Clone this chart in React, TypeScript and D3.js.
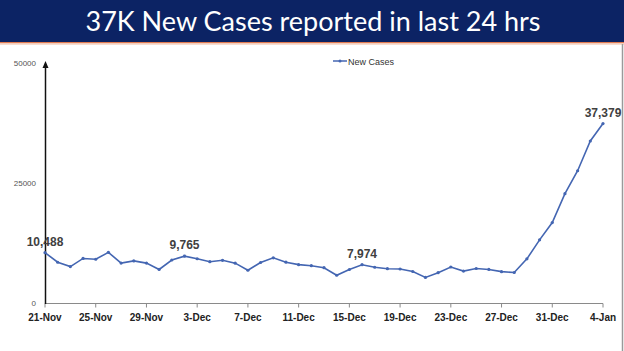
import React from 'react';
import * as d3 from 'd3';

const days = [
  '21-Nov', '22-Nov', '23-Nov', '24-Nov', '25-Nov', '26-Nov', '27-Nov', '28-Nov', '29-Nov', '30-Nov',
  '1-Dec', '2-Dec', '3-Dec', '4-Dec', '5-Dec', '6-Dec', '7-Dec', '8-Dec', '9-Dec', '10-Dec',
  '11-Dec', '12-Dec', '13-Dec', '14-Dec', '15-Dec', '16-Dec', '17-Dec', '18-Dec', '19-Dec', '20-Dec',
  '21-Dec', '22-Dec', '23-Dec', '24-Dec', '25-Dec', '26-Dec', '27-Dec', '28-Dec', '29-Dec', '30-Dec',
  '31-Dec', '1-Jan', '2-Jan', '3-Jan', '4-Jan',
];

const newCases = [
  10488, 8488, 7579, 9283, 9119, 10549, 8318, 8774, 8309, 6990,
  8954, 9765, 9216, 8603, 8895, 8306, 6822, 8439, 9419, 8503,
  7992, 7774, 7350, 5784, 6984, 7974, 7447, 7145, 7081, 6563,
  5326, 6317, 7495, 6650, 7189, 6987, 6531, 6358, 9195, 13154,
  16764, 22775, 27553, 33750, 37379,
];

const tickDays = ['21-Nov', '25-Nov', '29-Nov', '3-Dec', '7-Dec', '11-Dec', '15-Dec', '19-Dec', '23-Dec', '27-Dec', '31-Dec', '4-Jan'];
const yTicks = [0, 25000, 50000];
const labelledDays = ['21-Nov', '2-Dec', '16-Dec', '4-Jan'];

const W = 624;
const H = 351;

export default function App() {
  const x = d3.scalePoint<string>().domain(days).range([45, 603]);
  const y = d3.scaleLinear().domain([0, 50000]).range([303, 63]);

  const pts = days.map((d, i) => ({ d, v: newCases[i] }));
  const line = d3.line<{ d: string; v: number }>()
    .x(p => x(p.d) as number)
    .y(p => y(p.v));

  const blue = '#4466b2';
  const fmt = d3.format(',');

  return (
    <div style={{ position: 'absolute', left: 0, top: 0 }}>
      <svg width={W} height={H} style={{ display: 'block', background: '#fff' }}>
        {/* header band */}
        <rect x={0} y={0} width={W} height={42} fill="#0c2364" />
        <rect x={0} y={42} width={W} height={1.5} fill="#df7b52" />
        <rect x={0} y={43.5} width={W} height={1.5} fill="#f8ddd0" />
        <text x={313} y={31} textAnchor="middle" fill="#fff"
          style={{ fontFamily: 'Lato', fontSize: 27 }}>
          37K New Cases reported in last 24 hrs
        </text>
        <line x1={622.5} x2={622.5} y1={44} y2={H} stroke="#9a9a9a" strokeWidth={1.5} />

        {/* legend */}
        <line x1={333} x2={347} y1={61} y2={61} stroke={blue} strokeWidth={1.5} />
        <circle cx={340} cy={61} r={1.5} fill={blue} />
        <text x={348} y={64.5} fill="#333" style={{ fontFamily: 'Liberation Sans', fontSize: 9 }}>New Cases</text>

        {/* y axis */}
        {yTicks.map(t => (
          <text key={t} x={36} y={y(t) + 3} textAnchor="end" fill="#555"
            style={{ fontFamily: 'Liberation Sans', fontSize: 8 }}>{t}</text>
        ))}

        {/* x axis */}
        <line x1={45} x2={603} y1={303.5} y2={303.5} stroke="#8a8a8a" strokeWidth={1} />
        {tickDays.map(t => (
          <g key={t}>
            <line x1={x(t)} x2={x(t)} y1={303.5} y2={307.5} stroke="#8a8a8a" strokeWidth={1} />
            <text x={x(t)} y={321} textAnchor="middle" fill="#222"
              style={{ fontFamily: 'Liberation Sans', fontSize: 10, fontWeight: 'bold' }}>{t}</text>
          </g>
        ))}
        <line x1={45.5} x2={45.5} y1={304} y2={67} stroke="#111" strokeWidth={1.5} />
        <path d="M45.5,61 L42.5,68 L48.5,68 Z" fill="#111" />

        {/* series */}
        <path d={line(pts) ?? ''} fill="none" stroke={blue} strokeWidth={1.6} />
        {pts.map(p => (
          <circle key={p.d} cx={x(p.d)} cy={y(p.v)} r={1.6} fill={blue} />
        ))}

        {/* data labels */}
        {pts.filter(p => labelledDays.includes(p.d)).map(p => (
          <text key={p.d} x={x(p.d)} y={y(p.v) - 7} textAnchor="middle" fill="#404040"
            style={{ fontFamily: 'Liberation Sans', fontSize: 12, fontWeight: 'bold' }}>{fmt(p.v)}</text>
        ))}
      </svg>
    </div>
  );
}
